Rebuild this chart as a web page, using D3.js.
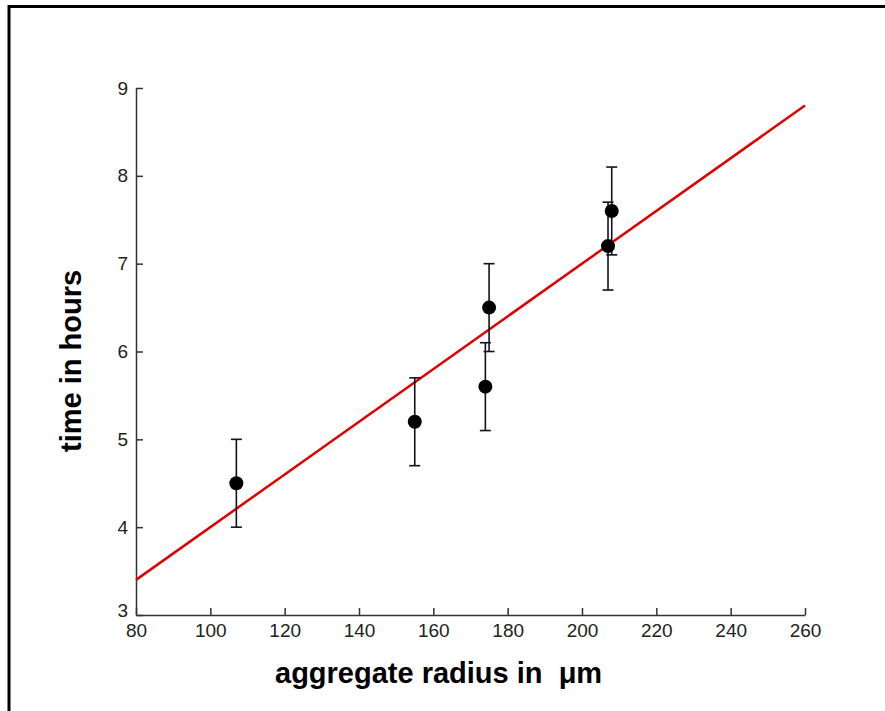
<!DOCTYPE html>
<html>
<head>
<meta charset="utf-8">
<script src="https://cdn.jsdelivr.net/npm/d3@7"></script>
<style>
	body { margin: 0; background: #fff; }
	svg { display: block; }
</style>
</head>
<body>
<svg id="chart" width="885" height="711"></svg>
<script>
const radius = [107, 155, 174, 175, 207, 208];
const hours = [4.5, 5.2, 5.6, 6.5, 7.2, 7.6];
const errors = [0.5, 0.5, 0.5, 0.5, 0.5, 0.5];
const fitX = [80, 260];
const fitY = [3.4, 8.8];
const xTicks = [80, 100, 120, 140, 160, 180, 200, 220, 240, 260];
const yTicks = [3, 4, 5, 6, 7, 8, 9];

const svg = d3.select("#chart");
const x = d3.scaleLinear().domain([80, 260]).range([136, 805]);
const y = d3.scaleLinear().domain([3, 9]).range([615, 88]);

// frame (only top and left edges are inside the picture)
svg.append("path")
	.attr("d", "M9,711 V6.5 H885")
	.attr("fill", "none")
	.attr("stroke", "#000")
	.attr("stroke-width", 3);

const tickFont = "'Liberation Sans', Arial, sans-serif";

const xAxis = svg.append("g")
	.attr("transform", `translate(0,${y(3)})`)
	.call(d3.axisBottom(x).tickValues(xTicks).tickFormat(d3.format("d"))
		.tickSizeInner(-7).tickSizeOuter(0).tickPadding(9));
const yAxis = svg.append("g")
	.attr("transform", `translate(${x(80)},0)`)
	.call(d3.axisLeft(y).tickValues(yTicks).tickFormat(d3.format("d"))
		.tickSizeInner(-7).tickSizeOuter(0).tickPadding(9));

[xAxis, yAxis].forEach(g => {
	g.select(".domain").attr("stroke", "#333").attr("stroke-width", 1.5);
	g.selectAll(".tick line").attr("stroke", "#333").attr("stroke-width", 1.5);
	g.selectAll(".tick text")
		.attr("fill", "#222")
		.style("font-family", tickFont)
		.style("font-size", "19px");
});
yAxis.selectAll(".tick text").attr("x", -8);
// the "3" label sits just above the x tick labels
yAxis.selectAll(".tick").filter(d => d === 3).select("text").attr("dy", "0.1em");

// fit line
svg.append("line")
	.attr("x1", x(fitX[0]))
	.attr("y1", y(fitY[0]))
	.attr("x2", x(fitX[1]))
	.attr("y2", y(fitY[1]))
	.attr("stroke", "#e00000")
	.attr("stroke-width", 2.5);

// error bars
const pts = radius.map((r, i) => ({ r, h: hours[i], e: errors[i] }));
const eb = svg.append("g").attr("stroke", "#111122").attr("stroke-width", 1.6);
pts.forEach(d => {
	eb.append("line")
		.attr("x1", x(d.r)).attr("x2", x(d.r))
		.attr("y1", y(d.h - d.e)).attr("y2", y(d.h + d.e));
	[d.h - d.e, d.h + d.e].forEach(v => {
		eb.append("line")
			.attr("x1", x(d.r) - 5.5).attr("x2", x(d.r) + 5.5)
			.attr("y1", y(v)).attr("y2", y(v));
	});
});

svg.append("g")
	.selectAll("circle")
	.data(pts)
	.join("circle")
	.attr("cx", d => x(d.r))
	.attr("cy", d => y(d.h))
	.attr("r", 7)
	.attr("fill", "#000");

// axis titles
svg.append("text")
	.attr("x", 275)
	.attr("y", 683)
	.attr("font-family", "'Liberation Sans', Arial, sans-serif")
	.attr("font-weight", "bold")
	.attr("font-size", 29)
	.attr("fill", "#000")
	.style("white-space", "pre")
	.text("aggregate radius in  μm");

svg.append("text")
	.attr("transform", "translate(81,361) rotate(-90)")
	.attr("text-anchor", "middle")
	.attr("font-family", "'Liberation Sans', Arial, sans-serif")
	.attr("font-weight", "bold")
	.attr("font-size", 29)
	.attr("fill", "#000")
	.text("time in hours");
</script>
</body>
</html>
